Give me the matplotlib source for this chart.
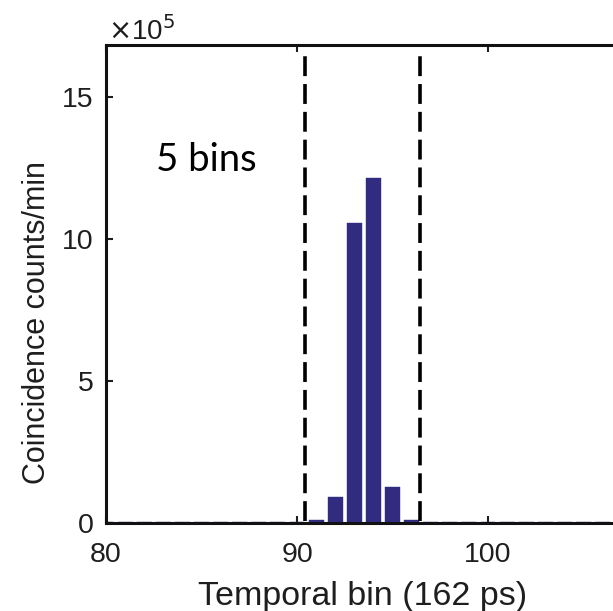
import matplotlib
matplotlib.use("Agg")
import matplotlib.pyplot as plt

# Coincidence histogram (counts/min, in units of 1e5) per temporal bin
bins = list(range(80, 107))
counts = [0.02, 0.02, 0.02, 0.02, 0.02, 0.03, 0.03, 0.03, 0.03, 0.03,
          0.04, 0.1, 0.92, 10.55, 12.13, 1.27, 0.1, 0.03, 0.02, 0.02,
          0.02, 0.02, 0.02, 0.02, 0.02, 0.02, 0.02]
window_edges = [90.4, 96.45]
x_ticks = [80, 90, 100]
y_ticks = [0, 5, 10, 15]

bar_color = "#312c80"
font = "Liberation Sans"
text_color = "#1e1e1e"

fig = plt.figure(figsize=(6.13, 6.11), dpi=100)
ax = fig.add_axes([106 / 613, 88.3 / 611, (620 - 106) / 613, (522.7 - 45) / 611])

ax.bar(bins, counts, width=0.78, color=bar_color, edgecolor=bar_color, linewidth=0.3, zorder=2)
ax.vlines(window_edges, 0.05, 16.45, colors="black", linewidth=2.6,
          linestyles=(0, (5.5, 2.2)), zorder=3)

ax.set_xlim(80, 80 + (620 - 106) / 19.1)
ax.set_ylim(0, 16.82)
ax.set_xticks(x_ticks)
ax.set_yticks(y_ticks)
ax.tick_params(direction="in", length=5, width=1.5, top=True, right=True,
               labelsize=20.5, colors=text_color)
ax.tick_params(axis="x", pad=14)
ax.tick_params(axis="y", pad=9)
for lab in ax.get_xticklabels() + ax.get_yticklabels():
    lab.set_fontfamily(font)
for side in ["left", "bottom", "top", "right"]:
    ax.spines[side].set_linewidth(2.2)
    ax.spines[side].set_color("#111111")

ax.set_xlabel("Temporal bin (162 ps)", fontsize=24.5, family=font, color=text_color)
ax.xaxis.set_label_coords(0.5, -(605 - 522.7) / (522.7 - 45), transform=ax.transAxes)
ax.xaxis.label.set_va("baseline")
ax.set_ylabel("Coincidence counts/min", fontsize=22, family=font, color=text_color)
ax.yaxis.set_label_coords(-(106 - 37) / 514, (611 - 88.3 - 322) / (522.7 - 45))
ax.yaxis.label.set_va("center")

ax.text(0.003, 0.998, r"$\times$10$^{5}$", transform=ax.transAxes, fontsize=20, family=font,
        color=text_color, ha="left", va="bottom")
ax.text(156, 611 - 171, "5 bins", transform=None, fontsize=27.5, family="Lato",
        color="black", ha="left", va="baseline")

fig.savefig("out.png", dpi=100)
